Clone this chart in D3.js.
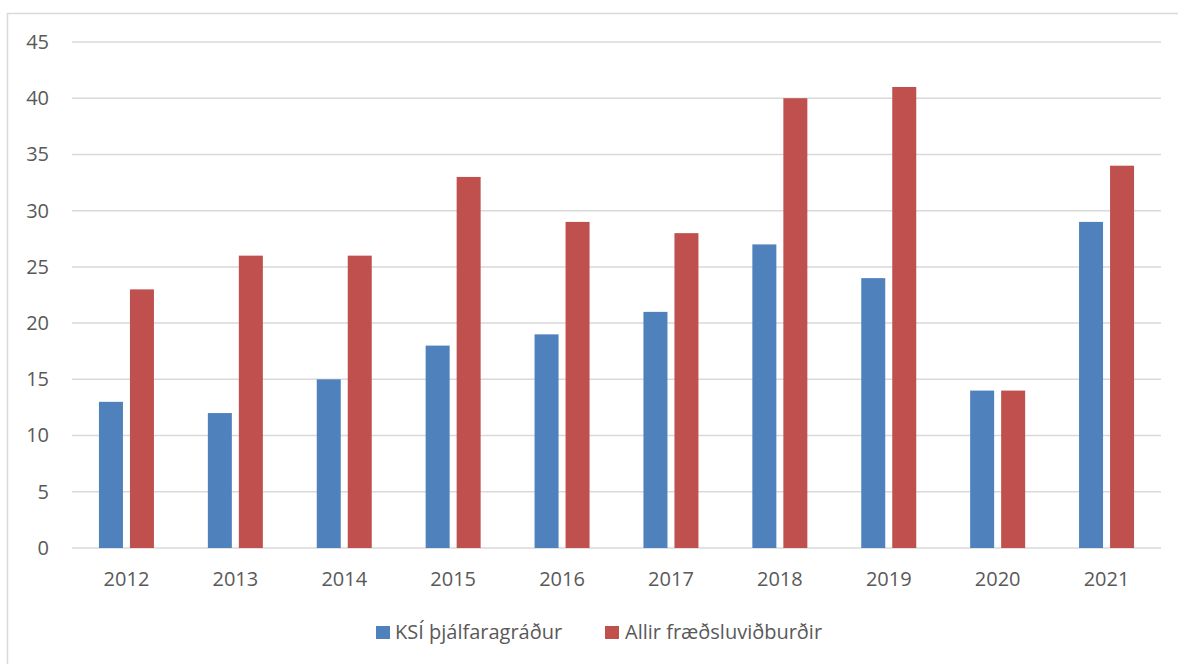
<!DOCTYPE html>
<html>
<head>
<meta charset="utf-8">
<script src="https://cdn.jsdelivr.net/npm/d3@7"></script>
<style>
    body { margin: 0; background: #fff; }
    text { font-family: "Open Sans", "Liberation Sans", sans-serif; fill: #595959; }
</style>
</head>
<body>
<div id="chart"></div>
<script>
// data
var years = ["2012", "2013", "2014", "2015", "2016", "2017", "2018", "2019", "2020", "2021"];
var ksiValues = [13, 12, 15, 18, 19, 21, 27, 24, 14, 29];
var allirValues = [23, 26, 26, 33, 29, 28, 40, 41, 14, 34];
var seriesNames = ["KSÍ þjálfaragráður", "Allir fræðsluviðburðir"];
var seriesColors = ["#4F81BD", "#C0504D"];
var yTicks = [0, 5, 10, 15, 20, 25, 30, 35, 40, 45];

var W = 1178, H = 664;
var margin = { top: 42, right: 17, bottom: 116, left: 72 };
var plot = { width: W - margin.left - margin.right, height: H - margin.top - margin.bottom };
var fontSize = "20px";

var svg = d3.select("#chart")
    .append("svg")
    .attr("width", W)
    .attr("height", H);

// outer frame
svg.append("rect")
    .attr("x", 7.5)
    .attr("y", 13.5)
    .attr("width", W)
    .attr("height", H)
    .attr("fill", "none")
    .attr("stroke", "#d9d9d9")
    .attr("stroke-width", 1.5);

var g = svg.append("g")
    .attr("transform", "translate(" + margin.left + "," + margin.top + ")");

var x = d3.scaleBand()
    .domain(years)
    .range([0, plot.width]);

var y = d3.scaleLinear()
    .domain([0, 45])
    .range([plot.height, 0]);

// gridlines
g.append("g")
    .selectAll("line")
    .data(yTicks)
    .join("line")
    .attr("x1", 0)
    .attr("x2", plot.width)
    .attr("y1", d => y(d))
    .attr("y2", d => y(d))
    .attr("stroke", "#d9d9d9")
    .attr("stroke-width", 1.5);

// y axis labels
let yAxis = g.append("g")
    .call(d3.axisLeft(y).tickValues(yTicks).tickSize(0).tickPadding(23));
yAxis.select(".domain").remove();
yAxis.selectAll(".tick text")
    .style("font-size", fontSize)
    .attr("fill", "#595959");

// x axis labels
let xAxis = g.append("g")
    .attr("transform", "translate(0," + plot.height + ")")
    .call(d3.axisBottom(x).tickSize(0).tickPadding(24));
xAxis.select(".domain").remove();
xAxis.selectAll(".tick text")
    .style("font-size", fontSize)
    .attr("fill", "#595959");

// bars
var barW = 24, gap = 7;
var series = [ksiValues, allirValues];

series.forEach(function (vals, si) {
    g.append("g")
        .selectAll("rect")
        .data(vals)
        .join("rect")
        .attr("x", (d, i) => x(years[i]) + x.bandwidth() / 2 + (si === 0 ? -(barW + gap / 2) : gap / 2))
        .attr("y", d => y(d))
        .attr("width", barW)
        .attr("height", d => plot.height - y(d))
        .attr("fill", seriesColors[si]);
});

// legend
var legend = svg.append("g");
var legendX = [376, 605];
seriesNames.forEach(function (name, i) {
    legend.append("rect")
        .attr("x", legendX[i])
        .attr("y", 626)
        .attr("width", 14)
        .attr("height", 13)
        .attr("fill", seriesColors[i]);
    legend.append("text")
        .attr("x", legendX[i] + (i === 0 ? 19 : 20))
        .attr("y", 638.5)
        .style("font-size", fontSize)
        .text(name);
});
</script>
</body>
</html>
